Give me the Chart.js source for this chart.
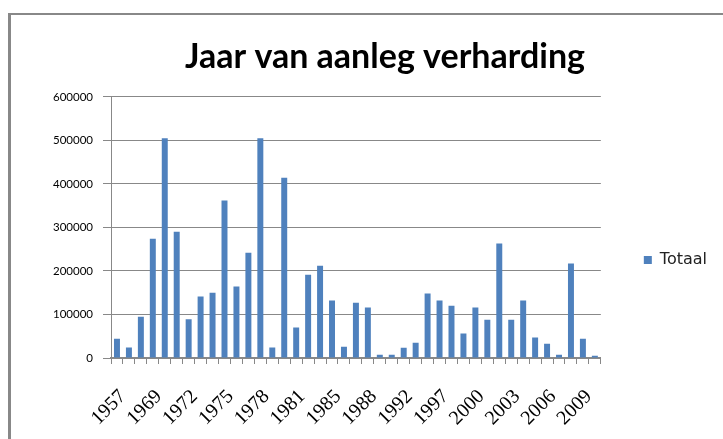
<!DOCTYPE html>
<html>
<head>
<meta charset="utf-8">
<script src="https://cdn.jsdelivr.net/npm/chart.js@4/dist/chart.umd.min.js"></script>
<style>
  html, body { margin: 0; padding: 0; background: #fff; overflow: hidden; width: 723px; height: 439px; }
  #frame { position: absolute; left: 8px; top: 13px; width: 800px; height: 500px;
           border-left: 3px solid #888; border-top: 2px solid #888; }
  #chart { position: absolute; left: 0; top: 0; }
</style>
</head>
<body>
<div id="frame"></div>
<canvas id="chart" width="723" height="520"></canvas>
<script>
// data
const years = ['1957', '1962', '1966', '1969', '1970', '1971', '1972', '1973', '1974', '1975',
    '1976', '1977', '1978', '1979', '1980', '1981', '1982', '1984', '1985', '1986',
    '1987', '1988', '1989', '1990', '1992', '1993', '1995', '1997', '1998', '1999',
    '2000', '2001', '2002', '2003', '2004', '2005', '2006', '2007', '2008', '2009', '2010'];
const totaal = [44000, 24000, 95000, 274000, 505000, 290000, 89000, 141000, 150000, 362000,
    164000, 242000, 505000, 24000, 414000, 70000, 191000, 212000, 132000, 26000,
    127000, 116000, 7500, 7500, 23500, 35000, 148000, 132000, 120000, 56000,
    116000, 88000, 263000, 88000, 132000, 47000, 33000, 7500, 217000, 44000, 5000];
const yTicks = [0, 100000, 200000, 300000, 400000, 500000, 600000];

const ctx = document.querySelector('#chart').getContext('2d');

const config = {
    type: 'bar',
    data: {
        labels: years,
        datasets: [{
            label: 'Totaal',
            data: totaal,
            backgroundColor: '#4f81bd',
            categoryPercentage: 1,
            barPercentage: 0.5
        }]
    },
    options: {
        responsive: false,
        animation: false,
        layout: { padding: { left: 53, right: 6, top: 0, bottom: 0 } },
        plugins: {
            title: {
                display: true,
                text: 'Jaar van aanleg verharding',
                color: '#000',
                font: { family: 'Lato', size: 34, weight: 'bold' },
                padding: { top: 37, bottom: 19 }
            },
            legend: {
                position: 'right',
                labels: {
                    boxWidth: 8,
                    boxHeight: 8,
                    padding: 43,
                    color: '#222',
                    font: { family: 'DejaVu Sans', size: 16 }
                }
            },
            tooltip: { enabled: false }
        },
        scales: {
            x: {
                afterFit: (s) => { s.height = 162; },
                border: { color: '#888', width: 2 },
                grid: { drawOnChartArea: false, color: '#888', tickLength: 6 },
                ticks: {
                    autoSkip: false,
                    minRotation: 45,
                    maxRotation: 45,
                    padding: 21,
                    labelOffset: 6,
                    color: '#000',
                    font: { family: 'Liberation Serif', size: 20 },
                    callback: (v, i) => (i % 3 === 0 ? years[i] : '')
                }
            },
            y: {
                min: 0,
                max: 600000,
                afterFit: (s) => { s.width = 58; },
                afterBuildTicks: (s) => { s.ticks = yTicks.map(v => ({ value: v })); },
                border: { color: '#888', width: 1 },
                grid: { color: '#888', tickLength: 8 },
                ticks: {
                    padding: 10,
                    color: '#000',
                    font: { family: 'Lato', size: 11.5 },
                    callback: (v) => String(v)
                }
            }
        }
    }
};
const chart = new Chart(ctx, config);
</script>
</body>
</html>
